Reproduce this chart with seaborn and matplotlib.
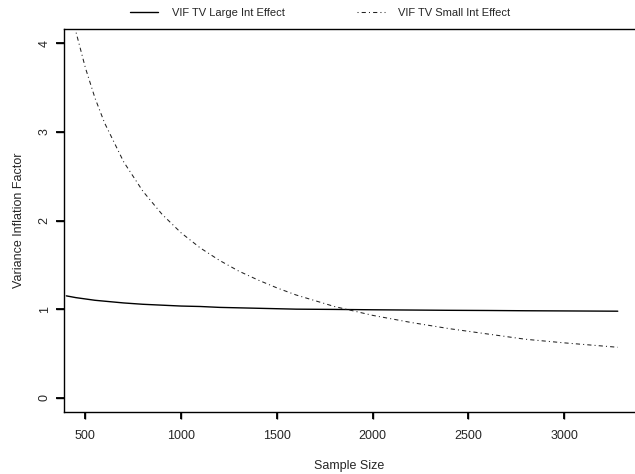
import matplotlib
matplotlib.use("Agg")
import matplotlib.pyplot as plt
import seaborn as sns
import pandas as pd

sample_size = [400, 450, 500, 550, 600, 700, 800, 900, 1000, 1100, 1200, 1300,
               1400, 1500, 1600, 1800, 2000, 2200, 2400, 2600, 2800, 3000, 3280]
vif_large = [1.150, 1.130, 1.115, 1.100, 1.090, 1.070, 1.055, 1.045, 1.035, 1.030,
             1.020, 1.015, 1.010, 1.005, 1.000, 0.997, 0.993, 0.990, 0.987, 0.985,
             0.982, 0.980, 0.977]
vif_small = [4.65, 4.13, 3.72, 3.38, 3.10, 2.66, 2.33, 2.07, 1.86, 1.69, 1.55, 1.43,
             1.33, 1.24, 1.16, 1.03, 0.93, 0.85, 0.78, 0.72, 0.66, 0.62, 0.57]
series_names = ["VIF TV Large Int Effect", "VIF TV Small Int Effect"]
x_ticks = [500, 1000, 1500, 2000, 2500, 3000]
y_ticks = [0, 1, 2, 3, 4]

sns.set_style("ticks")
plt.rcParams["font.family"] = ["Liberation Sans", "DejaVu Sans"]
plt.rcParams["font.size"] = 9

df = pd.DataFrame({"n": sample_size, "large": vif_large, "small": vif_small})

fig = plt.figure(figsize=(6.35, 4.74), dpi=100)
W, H = 635, 474
left, right, top, bottom = 64, 635, 29, 412
ax = fig.add_axes([left / W, (H - bottom) / H, (right - left) / W, (bottom - top) / H])

sns.lineplot(data=df, x="n", y="large", ax=ax, color="black", linewidth=1.0,
             label=series_names[0], legend=False)
sns.lineplot(data=df, x="n", y="small", ax=ax, color="#222222", linewidth=0.75,
             linestyle=(0, (1, 3, 4, 3)), label=series_names[1], legend=False)

ax.set_xlim(388, 3370)
ax.set_ylim(-0.16, 4.16)
ax.set_xticks(x_ticks)
ax.set_yticks(y_ticks)
ax.set_xticklabels([str(v) for v in x_ticks])
ax.set_yticklabels([str(v) for v in y_ticks], rotation=90, va="center")
ax.tick_params(axis="x", which="major", length=5, width=1.0, color="black",
               labelsize=9, pad=8, direction="out", bottom=True, top=False)
ax.tick_params(axis="y", which="major", length=5.5, width=1.0, color="black",
               labelsize=9, pad=4, direction="out", left=True, right=False)

# explicit tick marks (R-style), placed at the tick positions
xlen = 7 / (bottom - top)
ylen = 8 / (right - left)
ax.vlines(x_ticks, -xlen, 0, transform=ax.get_xaxis_transform(), colors="black",
          linewidths=1.3, clip_on=False, zorder=10)
ax.hlines(y_ticks, -ylen, 0, transform=ax.get_yaxis_transform(), colors="black",
          linewidths=1.3, clip_on=False, zorder=10)

for s in ["left", "bottom", "top"]:
    ax.spines[s].set_visible(True)
    ax.spines[s].set_color("black")
    ax.spines[s].set_linewidth(1.0)
ax.spines["right"].set_visible(False)

ax.set_xlabel("Sample Size", fontsize=9, labelpad=13)
ax.set_ylabel("Variance Inflation Factor", fontsize=9, labelpad=10)

handles, labels = ax.get_legend_handles_labels()
fig.legend(handles, labels, loc="upper left", bbox_to_anchor=(130 / W, (H - 8) / H),
           ncol=2, frameon=False, fontsize=8, handlelength=2.5, handletextpad=1.25,
           columnspacing=6.5, borderpad=0, borderaxespad=0)

fig.savefig("out.png", dpi=100)
